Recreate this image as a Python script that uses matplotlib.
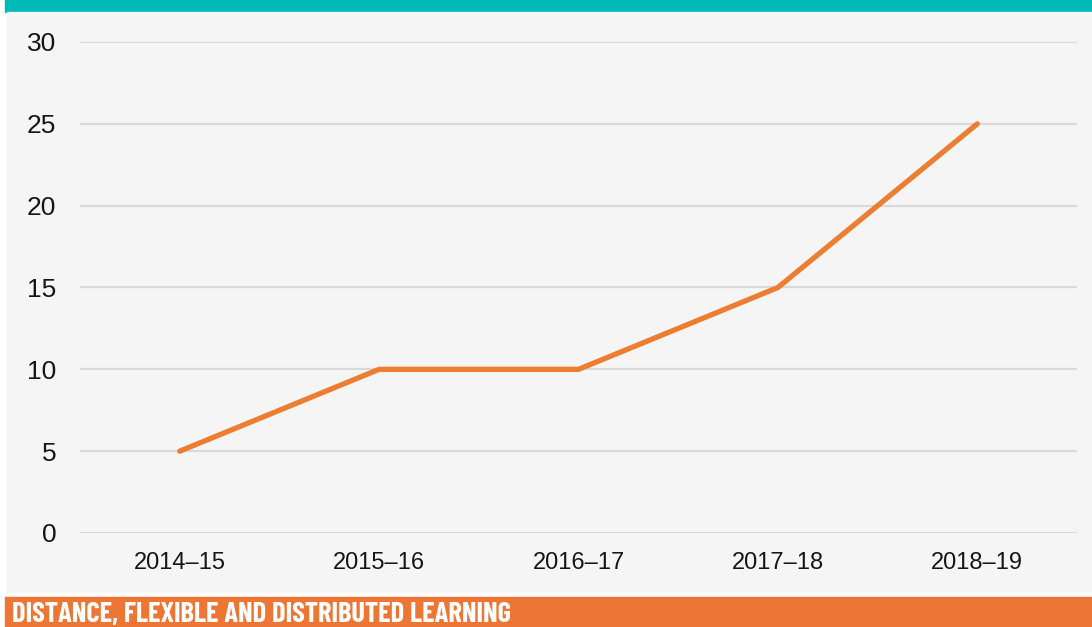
import matplotlib
matplotlib.use("Agg")
import matplotlib.pyplot as plt
from matplotlib.patches import Rectangle

categories = ["2014\u201315", "2015\u201316", "2016\u201317", "2017\u201318", "2018\u201319"]
values = [5, 10, 10, 15, 25]
yticks = [0, 5, 10, 15, 20, 25, 30]
footer_text = "DISTANCE, FLEXIBLE AND DISTRIBUTED LEARNING"

W, H = 1092, 627
fig = plt.figure(figsize=(W / 100, H / 100), dpi=100)
fig.patch.set_facecolor("white")

def px_rect(x0, y0, x1, y1, color):
    fig.patches.append(Rectangle((x0 / W, 1 - y1 / H), (x1 - x0) / W, (y1 - y0) / H,
                                 transform=fig.transFigure, color=color, zorder=-10))

px_rect(5, 0, W, 12, "#00BABA")
px_rect(7, 12, W, 592, "#F5F5F5")
px_rect(5, 597, W, H, "#ED7635")

fig.text(12 / W, 1 - 622 / H, footer_text, color="white", fontsize=20.5, fontweight="bold",
         family=["Barlow Condensed", "DejaVu Sans"], va="baseline", ha="left")

tick_font = ["Liberation Sans", "DejaVu Sans"]

ax = fig.add_axes([80 / W, 1 - 533 / H, (1077 - 80) / W, (533 - 42) / H])
ax.set_facecolor("none")
ax.plot(range(len(categories)), values, color="#ED7D31", lw=3.8, solid_capstyle="round", zorder=3)
ax.set_xlim(-0.5, len(categories) - 0.5)
ax.set_ylim(0, 30)
ax.set_yticks(yticks)
ax.set_xticks(range(len(categories)))
ax.set_xticklabels(categories, fontsize=17, family=tick_font, color="#161616")
ax.set_yticklabels([str(v) for v in yticks], fontsize=19, family=tick_font, color="#161616")
ax.tick_params(axis="both", length=0)
ax.tick_params(axis="y", pad=17)
ax.tick_params(axis="x", pad=14)
ax.grid(axis="y", color="#D9D9D9", lw=1.5)
ax.set_axisbelow(True)
for s in ax.spines.values():
    s.set_visible(False)

fig.savefig("out.png", dpi=100, facecolor=fig.get_facecolor())
